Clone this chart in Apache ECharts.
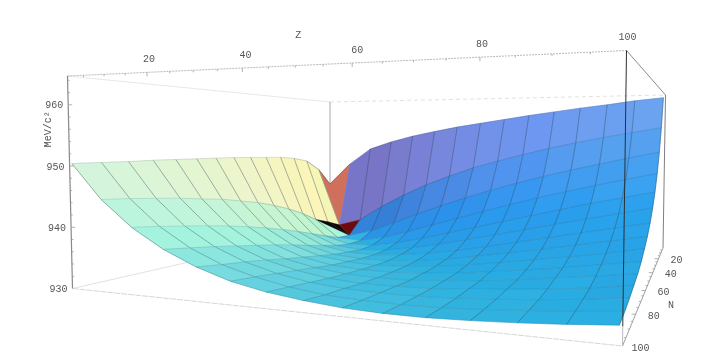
<!DOCTYPE html>
<html><head><meta charset="utf-8">
<style>html,body{margin:0;padding:0;background:#fff}#c{width:704px;height:359px}</style>
<script src="https://cdn.jsdelivr.net/npm/echarts@6/dist/echarts.min.js"></script>
</head><body><div id="c"></div>
<script>
// proton number Z and neutron number N of the grid
const zNodes=[1,8,15,22,29,36,43,50,57,64,71,78,85,92,99];
const nNodes=[1,8,15,22,29,36,43,50,57,64,71,78,85,92,99];
// mass per nucleon (MeV/c^2), one list per Z, running over N
const massZ1 =[942.5,946.6,949.0,949.8,950.2,950.3,950.4,950.5,950.5,950.5,950.5,950.5,950.4,950.4,950.4];
const massZ8 =[948.0,932.3,933.7,934.9,936.9,938.5,939.8,940.9,941.7,942.5,943.0,943.6,944.0,944.4,944.7];
const massZ15=[952.0,933.9,930.6,930.8,931.9,933.1,934.3,935.4,936.4,937.3,938.1,938.8,939.4,940.0,940.5];
const massZ22=[953.9,937.5,932.0,930.4,930.3,930.8,931.6,932.4,933.3,934.1,934.8,935.5,936.2,936.8,937.4];
const massZ29=[955.4,940.6,934.3,931.5,930.4,930.2,930.5,930.9,931.5,932.1,932.7,933.4,934.0,934.5,935.1];
const massZ36=[956.6,943.3,936.6,933.1,931.3,930.5,930.3,930.4,930.7,931.0,931.5,932.0,932.5,933.0,933.4];
const massZ43=[957.7,945.6,938.8,934.9,932.6,931.3,930.7,930.4,930.4,930.6,930.8,931.1,931.5,931.9,932.3];
const massZ50=[958.6,947.7,940.9,936.7,934.1,932.4,931.4,930.8,930.6,930.5,930.6,930.7,931.0,931.2,931.6];
const massZ57=[959.5,949.4,942.8,938.5,935.6,933.7,932.3,931.5,931.0,930.8,930.6,930.7,930.8,930.9,931.1];
const massZ64=[960.4,951.0,944.6,940.2,937.1,935.0,933.4,932.4,931.7,931.2,931.0,930.8,930.8,930.8,930.9];
const massZ71=[961.2,952.5,946.3,941.9,938.6,936.3,934.6,933.4,932.5,931.9,931.4,931.2,931.0,930.9,930.9];
const massZ78=[962.0,953.8,947.8,943.4,940.1,937.7,935.8,934.4,933.4,932.6,932.0,931.7,931.4,931.2,931.1];
const massZ85=[962.7,955.0,949.2,944.9,941.6,939.0,937.0,935.5,934.3,933.4,932.8,932.2,931.8,931.6,931.4];
const massZ92=[963.5,956.1,950.6,946.3,942.9,940.3,938.2,936.6,935.3,934.3,933.5,932.8,932.4,932.1,931.8];
const massZ99=[964.1,957.2,951.9,947.6,944.2,941.6,939.4,937.7,936.4,935.2,934.3,933.7,933.1,932.6,932.3];
const massTable=[massZ1,massZ8,massZ15,massZ22,massZ29,massZ36,massZ43,massZ50,massZ57,massZ64,massZ71,massZ78,massZ85,massZ92,massZ99];
// axes
const zTicks=[20,40,60,80,100], nTicks=[20,40,60,80,100], eTicks=[930,940,950,960];
const axisNames=['Z','N','MeV/c²'];

// ---- view of the box ----
const B={zMin:1,zMax:99.5,nMin:1,nMax:99.5,eMin:930,eMax:964.7};
const quad=(p0,p1,p2,p3)=>{
  const sx=p0[0]-p1[0]+p2[0]-p3[0], sy=p0[1]-p1[1]+p2[1]-p3[1];
  const dx1=p1[0]-p2[0],dx2=p3[0]-p2[0],dy1=p1[1]-p2[1],dy2=p3[1]-p2[1];
  const det=dx1*dy2-dx2*dy1, g=(sx*dy2-dx2*sy)/det, h=(dx1*sy-sx*dy1)/det;
  const a=p1[0]-p0[0]+g*p1[0], b=p3[0]-p0[0]+h*p3[0], d=p1[1]-p0[1]+g*p1[1], e=p3[1]-p0[1]+h*p3[1];
  return (u,v)=>{const w=g*u+h*v+1;return [(a*u+b*v+p0[0])/w,(d*u+e*v+p0[1])/w];};
};
// u along Z, v along N
const topFace=quad([330,102],[665.5,95],[626.5,50.5],[67.5,76]);
const botFace=quad([330,230],[663,248],[622.5,346],[72.5,288.5]);
function project(z,n,e){
  const u=(z-B.zMin)/(B.zMax-B.zMin), v=(n-B.nMin)/(B.nMax-B.nMin), t=(e-B.eMin)/(B.eMax-B.eMin);
  const a=botFace(u,v), b=topFace(u,v);
  return [a[0]+(b[0]-a[0])*t, a[1]+(b[1]-a[1])*t];
}
// ---- lighting: three coloured lights fixed to the viewer ----
const az=24*Math.PI/180, el=5*Math.PI/180;
const R=[Math.cos(az),-Math.sin(az),0];
const U=[-Math.sin(el)*Math.sin(az),-Math.sin(el)*Math.cos(az),Math.cos(el)];
const T=[Math.cos(el)*Math.sin(az),Math.cos(el)*Math.cos(az),Math.sin(el)];
const dot=(a,b)=>a[0]*b[0]+a[1]*b[1]+a[2]*b[2];
const AMB=0.12;
function shade(i,j){
  const P=(a,b)=>[(zNodes[a]-B.zMin)/98.5,(nNodes[b]-B.nMin)/98.5,(massTable[a][b]-B.eMin)/(B.eMax-B.eMin)*0.4];
  const p00=P(i,j),p11=P(i+1,j+1),p10=P(i+1,j),p01=P(i,j+1);
  const d1=[p11[0]-p00[0],p11[1]-p00[1],p11[2]-p00[2]], d2=[p01[0]-p10[0],p01[1]-p10[1],p01[2]-p10[2]];
  let n=[d1[1]*d2[2]-d1[2]*d2[1],d1[2]*d2[0]-d1[0]*d2[2],d1[0]*d2[1]-d1[1]*d2[0]];
  if(n[2]<0)n=n.map(v=>-v);
  const L=Math.hypot(n[0],n[1],n[2]); n=n.map(v=>v/L);
  const x=dot(n,R),y=dot(n,U),z=dot(n,T);
  const c=s=>Math.max(0,Math.min(255,255*(AMB+Math.max(0,s))));
  const r0=c((x+z)*0.7071), g0=c((x+y+z)*0.5774), b0=c((y+z)*0.7071), t=r0/255;
  const g=g0*.9+15, k=Math.max(0,Math.min(1,(150-g)/30));
  const r=Math.min(255,r0+110*t*Math.pow(1-t,1.5)+15*k), b=100+b0*.55-25*k;
  return `rgb(${Math.round(r)},${Math.round(g)},${Math.round(b)})`;
}
const cells=[];
for(let i=0;i<zNodes.length-1;i++)for(let j=0;j<nNodes.length-1;j++)cells.push([i,j]);
const BLACK='#0a0406', DARKRED='#6e0a0c', RED='#d0705c';

function renderCell(params,api){
  const i=api.value(0), j=api.value(1);
  const pt=(a,b)=>api.coord(project(zNodes[a],nNodes[b],massTable[a][b]));
  const p00=pt(i,j),p10=pt(i+1,j),p11=pt(i+1,j+1),p01=pt(i,j+1);
  const kids=[];
  const tri=(a,b,c,col)=>kids.push({type:'polygon',shape:{points:[a,b,c]},style:{fill:col,stroke:col,lineWidth:.4}});
  if(i===1&&j===1){
    tri(p00,p01,p11,BLACK); tri(p00,p10,p11,DARKRED);
  }else if(i===1&&j===2){
    const col=shade(i,j); tri(p01,p11,p10,col); tri(p00,p01,p10,BLACK);
  }else{
    const col=(i===0&&j===0)?RED:shade(i,j);
    kids.push({type:'polygon',shape:{points:[p00,p10,p11,p01]},style:{fill:col,stroke:col,lineWidth:.5}});
  }
  const edge=(a,b)=>{
    const dx=b[0]-a[0],dy=b[1]-a[1],s=Math.abs(dy)/(Math.hypot(dx,dy)||1);
    kids.push({type:'line',shape:{x1:a[0],y1:a[1],x2:b[0],y2:b[1]},style:{stroke:'#15303f',lineWidth:.6,opacity:.2+.4*Math.min(1,s*1.6)}});
  };
  if(!(i===1&&j<=2)){edge(p00,p10);edge(p00,p01);}
  if(j===nNodes.length-2)edge(p01,p11);
  if(i===zNodes.length-2)edge(p10,p11);
  return {type:'group',children:kids};
}
const zL=B.zMin,zH=B.zMax,nL=B.nMin,nH=B.nMax,eL=B.eMin,eH=B.eMax;
const backEdges=[
 [zL,nH,eH,zL,nL,eH,'#e8e8e8',1,0],
 [zL,nL,eH,zH,nL,eH,'#e2e2e2',1,[4,3]],
 [zL,nL,eH,zL,nL,eL,'#a8a8a8',1,0],
 [zH,nL,eH,zH,nL,eL,'#808080',1,0],
 [zL,nH,eL,zL,nL,eL,'#e2e2e2',1,0],
 [zL,nH,eL,zH,nH,eL,'#d2d8d8',1,[6,1]],
 [zL,nH,eH,zH,nH,eH,'#b4bcbc',1,[2,1]],
 [zL,nH,eH,zL,nH,eL,'#888888',1.2,0],
 [zH,nH,eH,zH,nL,eH,'#8c8c8c',1,0],
 [zH,nH,eL,zH,nL,eL,'#a0a0a0',1,0]
];
const frontEdges=[
 [zH,nH,eH,zH,nH,932.3,'#2a2f33',1,0],
 [zH,nH,932.3,zH,nH,eL,'#b8bcbc',1,0]
];
// tick marks: data position and short pixel reach
const tickMarks=[];
for(let z=5;z<=95;z+=5)tickMarks.push([z,nH,eH,0,z%20===0?4:2]);
for(let n=5;n<=95;n+=5)tickMarks.push([zH,n,eL,n%20===0?-4:-2,0]);
for(let e=932;e<=964;e+=2)tickMarks.push([zL,nH,e,e%10===0?4:2,0]);
const zNudge={20:2,40:3,60:5,80:2,100:1};
const labels=[
 ...zTicks.map(z=>[String(z),Math.min(z,zH),nH,eH,zNudge[z],-13]),
 ...nTicks.map(n=>[String(n),zH,Math.min(n,nH),eL,18,2]),
 ...eTicks.map(e=>[String(e),zL,nH,e,-14,1]),
 [axisNames[0],50,nH,eH,3,-30],[axisNames[1],zH,70,eL,30,4]
];
const base={type:'custom',coordinateSystem:'cartesian2d',clip:false,silent:true,animation:false};
const edgeSeries=(list)=>({...base,
  data:list.map((e,k)=>[k,0]),
  renderItem:(params,api)=>{
    const d=list[api.value(0)];
    const a=api.coord(project(d[0],d[1],d[2])),b=api.coord(project(d[3],d[4],d[5]));
    return {type:'line',shape:{x1:a[0],y1:a[1],x2:b[0],y2:b[1]},style:{stroke:d[6],lineWidth:d[7],lineDash:d[8]||null}};
  }});
const font='10px "Liberation Mono","DejaVu Sans Mono",monospace';
const option={
  animation:false,backgroundColor:'#fff',
  grid:{left:0,right:0,top:0,bottom:0},
  xAxis:{type:'value',min:0,max:704,show:false},
  yAxis:{type:'value',min:0,max:359,inverse:true,show:false},
  series:[
    edgeSeries(backEdges),
    {...base,data:cells,renderItem:renderCell},
    edgeSeries(frontEdges),
    {...base,data:tickMarks.map((t,k)=>[k,0]),renderItem:(params,api)=>{
      const t=tickMarks[api.value(0)],p=api.coord(project(t[0],t[1],t[2]));
      return {type:'line',shape:{x1:p[0],y1:p[1],x2:p[0]+t[3],y2:p[1]+t[4]},style:{stroke:'#9a9f9f',lineWidth:.8}};
    }},
    {...base,data:labels.map((l,k)=>[k,0]),
     renderItem:(params,api)=>{
       const l=labels[api.value(0)],p=api.coord(project(l[1],l[2],l[3]));
       return {type:'text',x:p[0]+l[4],y:p[1]+l[5],style:{text:l[0],font,fill:'#555',align:'center',verticalAlign:'middle'}};
     }},
    {...base,data:[[0,0]],
     renderItem:(params,api)=>{
       const p=api.coord(project(zL,nH,956));
       return {type:'text',x:p[0]-20,y:p[1],rotation:Math.PI/2,style:{text:axisNames[2],font,fill:'#555',align:'center',verticalAlign:'middle'}};
     }}
  ]
};
echarts.init(document.getElementById('c'),null,{renderer:'canvas'}).setOption(option);
</script></body></html>
